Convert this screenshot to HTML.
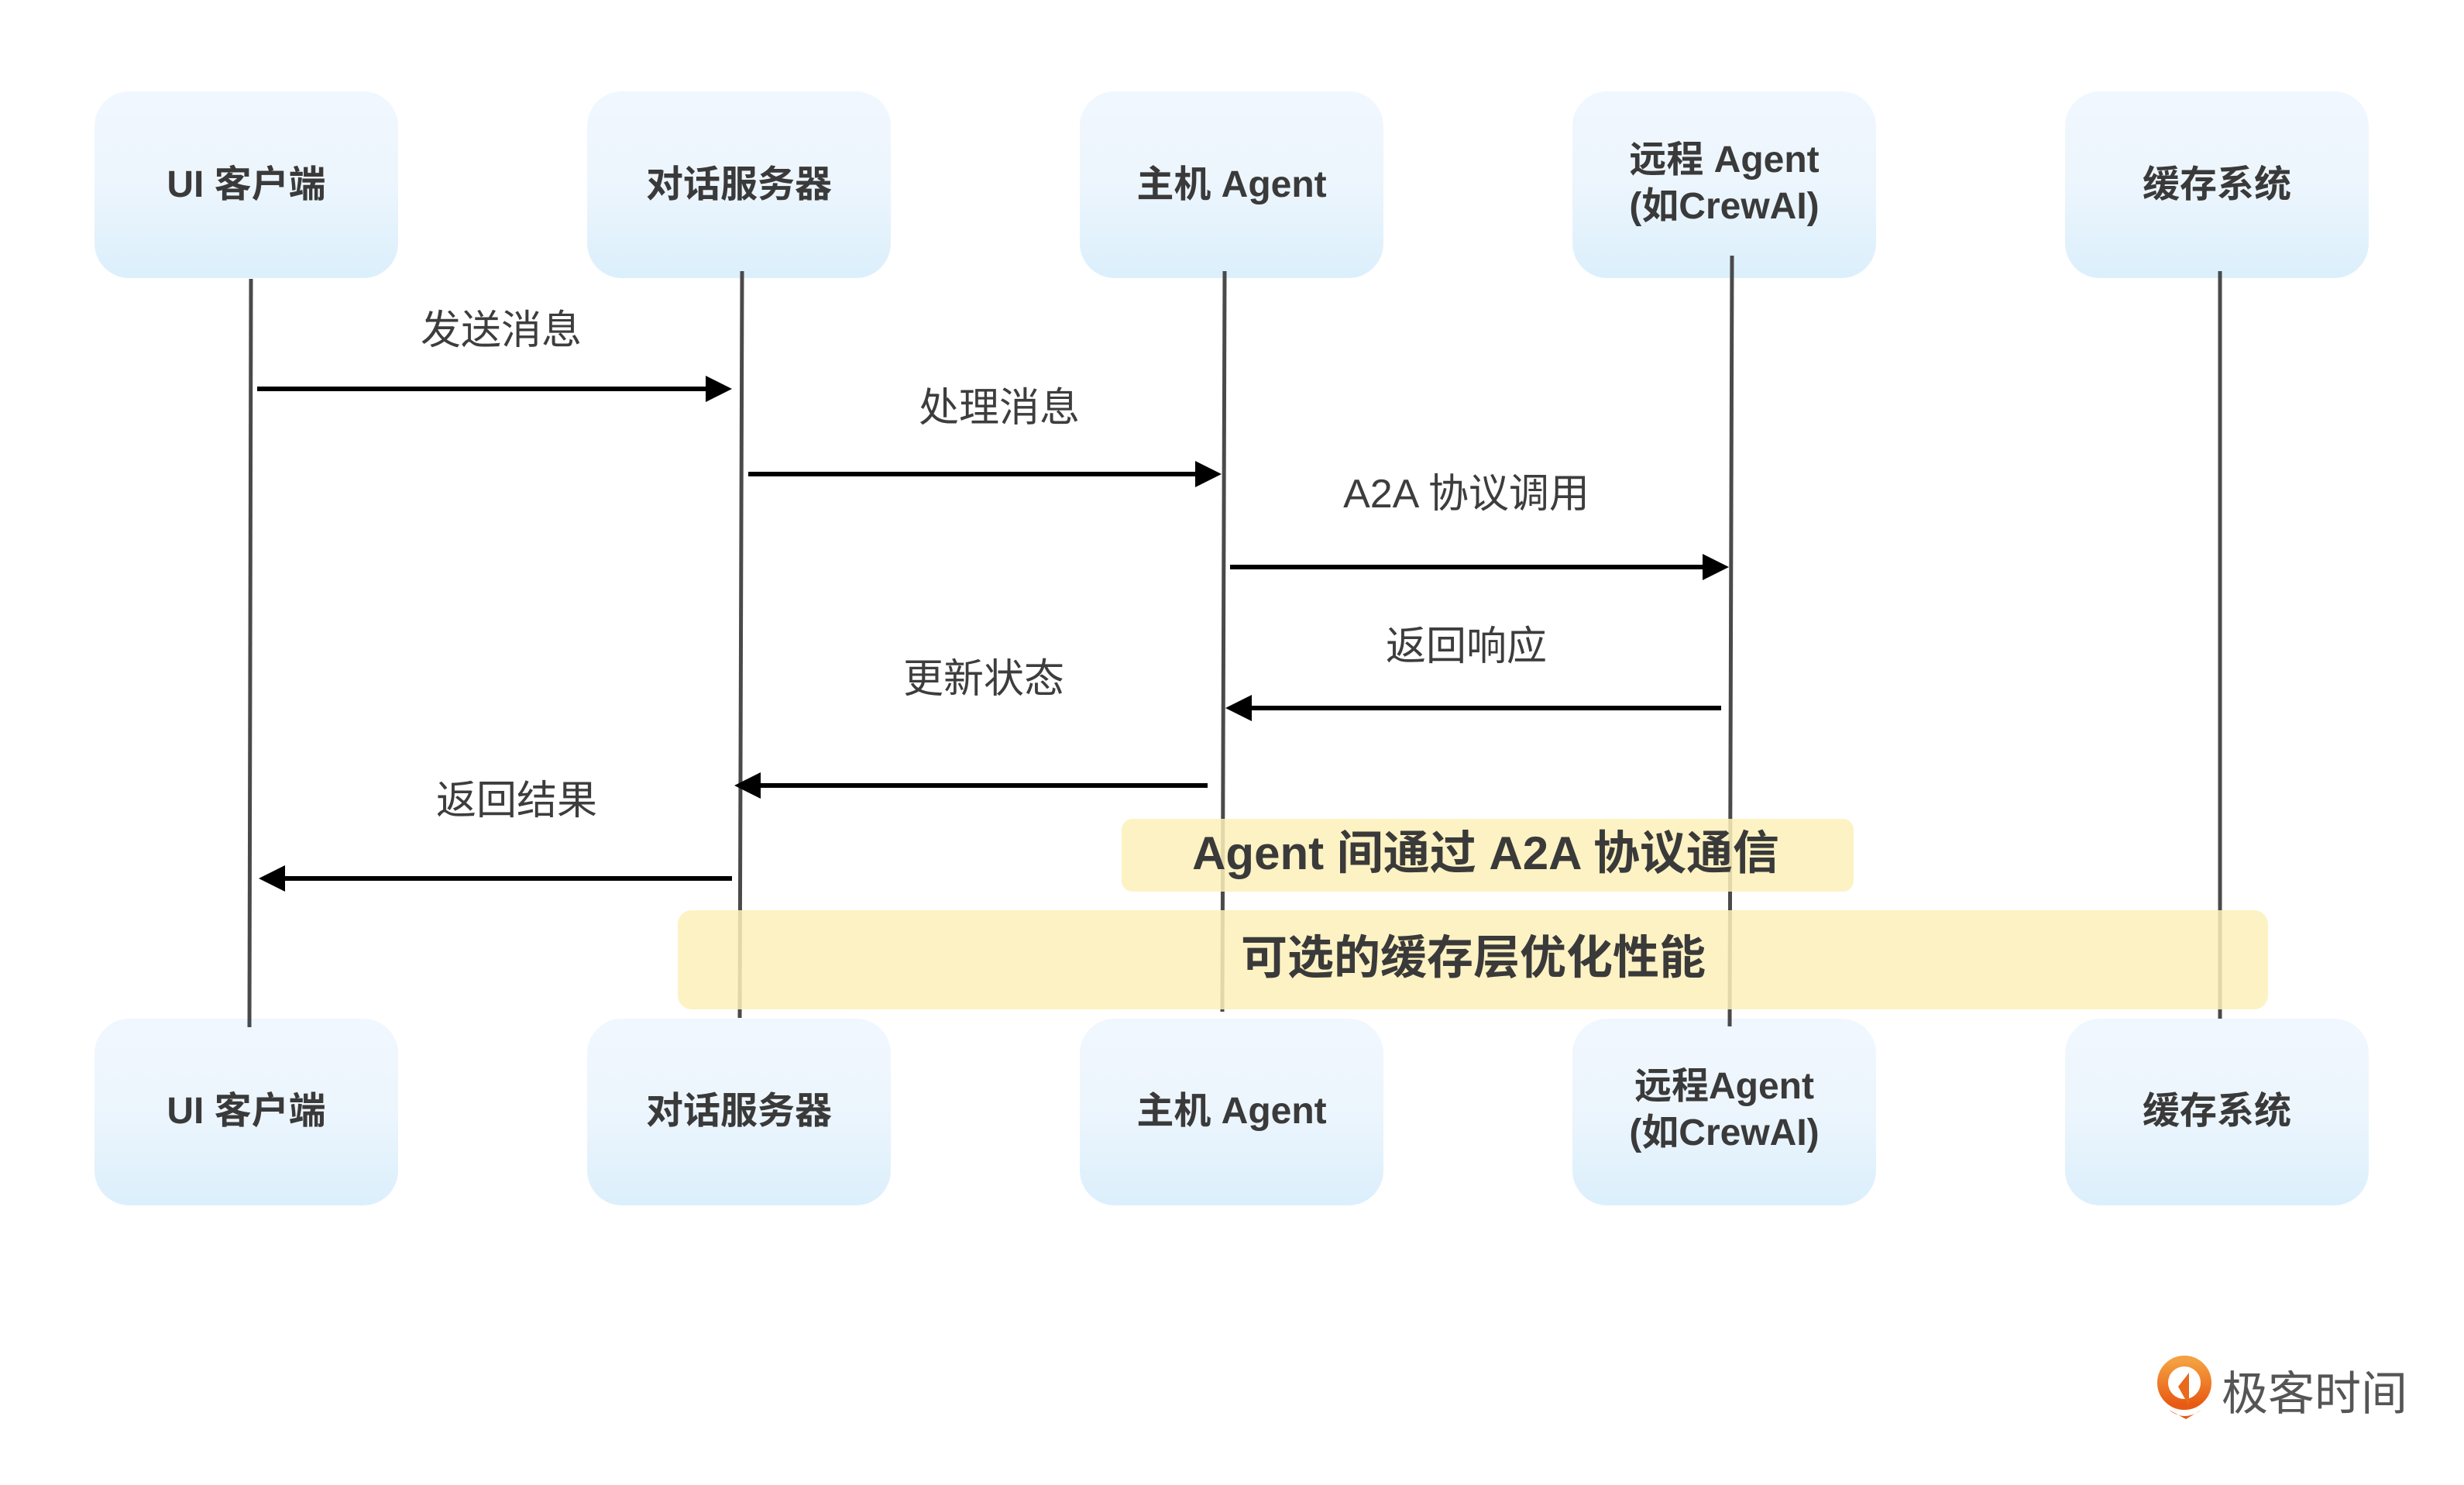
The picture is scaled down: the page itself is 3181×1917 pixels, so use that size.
<!DOCTYPE html>
<html><head><meta charset="utf-8"><style>
html,body{margin:0;padding:0;background:#fff}
svg{display:block}
text{font-family:"Liberation Sans","Noto Sans CJK SC",sans-serif}
</style></head><body>
<svg width="3181" height="1917" viewBox="0 0 3181 1917" xmlns="http://www.w3.org/2000/svg">
<defs>
<linearGradient id="g" x1="0" y1="0" x2="0" y2="1">
<stop offset="0" stop-color="#f0f7fe"/><stop offset="0.45" stop-color="#eef6fd"/><stop offset="1" stop-color="#dbeffc"/>
</linearGradient>
<linearGradient id="o" x1="0" y1="0" x2="0" y2="1">
<stop offset="0" stop-color="#f4a040"/><stop offset="1" stop-color="#e85a14"/>
</linearGradient>
</defs>
<!-- boxes -->
<g fill="url(#g)">
<rect x="122" y="118" width="392" height="241" rx="45"/>
<rect x="758" y="118" width="392" height="241" rx="45"/>
<rect x="1394" y="118" width="392" height="241" rx="45"/>
<rect x="2030" y="118" width="392" height="241" rx="45"/>
<rect x="2666" y="118" width="392" height="241" rx="45"/>
<rect x="122" y="1315" width="392" height="241" rx="45"/>
<rect x="758" y="1315" width="392" height="241" rx="45"/>
<rect x="1394" y="1315" width="392" height="241" rx="45"/>
<rect x="2030" y="1315" width="392" height="241" rx="45"/>
<rect x="2666" y="1315" width="392" height="241" rx="45"/>
</g>
<!-- lifelines -->
<g stroke="#4a4a4a" stroke-width="5">
<line x1="324" y1="360" x2="322" y2="1326"/>
<line x1="958" y1="350" x2="955" y2="1314"/>
<line x1="1581" y1="350" x2="1578" y2="1306"/>
<line x1="2236" y1="330" x2="2233" y2="1325"/>
<line x1="2866" y1="350" x2="2866" y2="1315"/>
</g>
<!-- arrows -->
<g stroke="#000" stroke-width="6">
<line x1="332" y1="502" x2="915" y2="502"/>
<line x1="966" y1="612" x2="1545" y2="612"/>
<line x1="1588" y1="732" x2="2198" y2="732"/>
<line x1="2222" y1="914" x2="1615" y2="914"/>
<line x1="1559" y1="1014" x2="980" y2="1014"/>
<line x1="945" y1="1134" x2="368" y2="1134"/>
</g>
<g fill="#000">
<polygon points="945,502 911,485 911,519"/>
<polygon points="1577,612 1543,595 1543,629"/>
<polygon points="2232,732 2198,715 2198,749"/>
<polygon points="1582,914 1616,897 1616,931"/>
<polygon points="948,1014 982,997 982,1031"/>
<polygon points="334,1134 368,1117 368,1151"/>
</g>
<!-- labels -->
<g fill="#3d3d3d" font-size="52" text-anchor="middle">
<text x="647" y="444">发送消息</text>
<text x="1290" y="544">处理消息</text>
<text x="1893" y="655">A2A 协议调用</text>
<text x="1893" y="852">返回响应</text>
<text x="1270" y="894">更新状态</text>
<text x="667" y="1051">返回结果</text>
</g>
<!-- highlights -->
<rect x="1448" y="1057" width="945" height="94" rx="14" fill="#fdf0b8" fill-opacity="0.85"/>
<rect x="875" y="1175" width="2053" height="128" rx="18" fill="#fdf0b8" fill-opacity="0.85"/>
<g fill="#3a3a3a" font-size="60" font-weight="bold" text-anchor="middle">
<text x="1918" y="1122">Agent 间通过 A2A 协议通信</text>
<text x="1902" y="1257">可选的缓存层优化性能</text>
</g>
<!-- box text -->
<g fill="#3a3a3a" font-size="48" font-weight="bold" text-anchor="middle">
<text x="318" y="254">UI 客户端</text>
<text x="954" y="254">对话服务器</text>
<text x="1590" y="254">主机 Agent</text>
<text x="2226" y="222">远程 Agent</text>
<text x="2226" y="282">(如CrewAI)</text>
<text x="2862" y="254">缓存系统</text>
<text x="318" y="1450">UI 客户端</text>
<text x="954" y="1450">对话服务器</text>
<text x="1590" y="1450">主机 Agent</text>
<text x="2226" y="1418">远程Agent</text>
<text x="2226" y="1478">(如CrewAI)</text>
<text x="2862" y="1450">缓存系统</text>
</g>
<!-- logo -->
<circle cx="2820" cy="1785" r="28" fill="none" stroke="url(#o)" stroke-width="14"/>
<polygon points="2812,1790 2826,1772 2826,1815" fill="#e86a1c"/>
<path d="M2800,1820 Q2820,1836 2842,1820 L2822,1832 Z" fill="#e85a14"/>
<text x="2868" y="1820" font-size="60" fill="#555">极客时间</text>
</svg>
</body></html>
